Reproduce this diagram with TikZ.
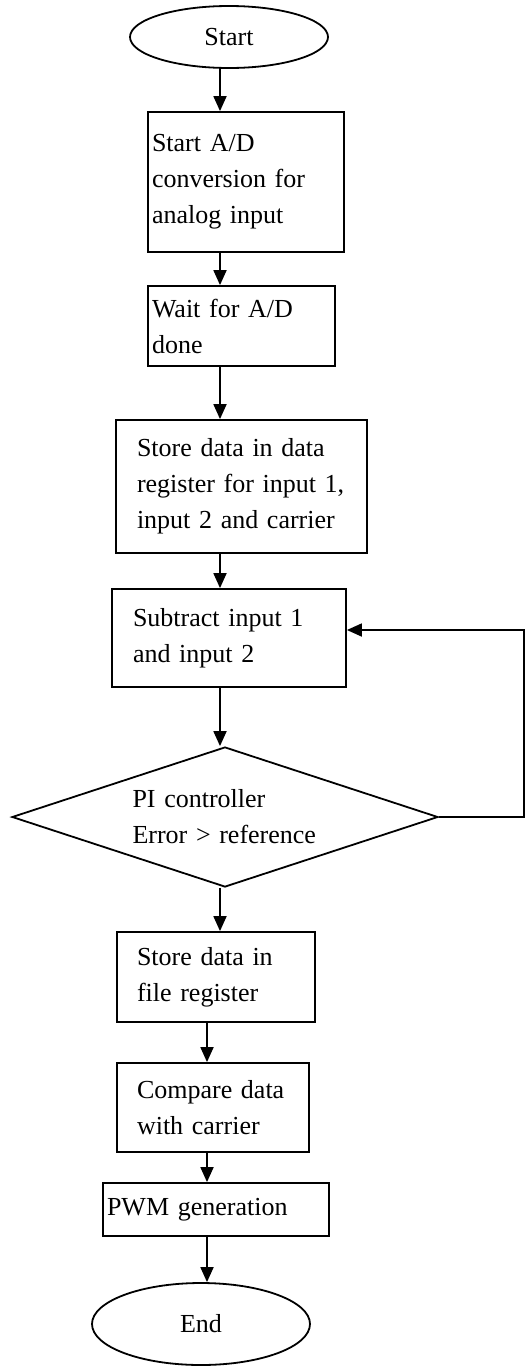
\documentclass[tikz,border=0pt]{standalone}
\usepackage{fontspec}
\setmainfont{Liberation Serif}
\usetikzlibrary{arrows.meta}
\usetikzlibrary{shapes.geometric}
\tikzset{
    block/.style={
           rectangle,
           draw=black, line width=1.8pt,
           inner ysep=0pt,
           align=left,
           },
    terminal/.style={
           ellipse,
           draw=black, line width=1.8pt,
           inner sep=0pt,
           },
    decision/.style={
           diamond,
           aspect=3,
           draw=black, line width=1.8pt,
           inner sep=0pt,
           align=left,
           },
    flow/.style={
           -{Triangle[length=15pt,width=13pt]},
           line width=1.8pt,
           },
}

\begin{document}
\begin{tikzpicture}[x=1pt, y=-1pt, font=\fontsize{26}{36}\selectfont]
	\useasboundingbox (0,0) rectangle (526,1366);

	% columns for the vertical arrows and the loop back
	\coordinate (upper) at (220,0);
	\coordinate (lower) at (207,0);
	\coordinate (loop) at (524,0);

	\node[terminal, minimum width=198pt, minimum height=62pt] (start) at (229,37) {Start};

	\node[block, minimum height=140pt, text width=188pt, inner xsep=4pt] (adstart) at (246,182) {
		Start A/D\\conversion for\\analog input
	};
	\node[block, minimum height=80pt, text width=179pt, inner xsep=4pt] (adwait) at (241.5,326) {
		Wait for A/D\\done
	};
	\node[block, minimum height=133pt, text width=209pt, inner xsep=21pt] (store) at (241.5,486.5) {
		Store data in data\\register for input 1,\\input 2 and carrier
	};
	\node[block, minimum height=98pt, text width=192pt, inner xsep=21pt] (subtract) at (229,638) {
		Subtract input 1\\and input 2
	};

	\node[decision, minimum width=426pt, minimum height=140pt, text width=185pt] (pi) at (225,817) {
		PI controller\\Error > reference
	};

	\node[block, minimum height=90pt, text width=158pt, inner xsep=20pt] (filereg) at (216,977) {
		Store data in\\file register
	};
	\node[block, minimum height=89pt, text width=152pt, inner xsep=20pt] (compare) at (213,1107.5) {
		Compare data\\with carrier
	};
	\node[block, minimum height=53pt, text width=218pt, inner xsep=4pt] (pwm) at (216,1209.5) {PWM generation};

	\node[terminal, minimum width=218pt, minimum height=82pt] (end) at (201,1324) {End};


	\path[flow]	(start.south -| upper) edge (adstart.north -| upper)
			(adstart.south -| upper) edge (adwait.north -| upper)
			(adwait.south -| upper) edge (store.north -| upper)
			(store.south -| upper) edge (subtract.north -| upper)
			(subtract.south -| upper) edge (pi.north -| upper)
			(pi.south -| upper) edge (filereg.north -| upper);

	\path[flow]	(filereg.south -| lower) edge (compare.north -| lower)
			(compare.south -| lower) edge (pwm.north -| lower)
			(pwm.south -| lower) edge (end.north -| lower);

	% loop back while the error is too large
	\draw[flow] (pi.east) -- (pi.east -| loop) |- ([yshift=8pt]subtract.east);

\end{tikzpicture}
\end{document}
